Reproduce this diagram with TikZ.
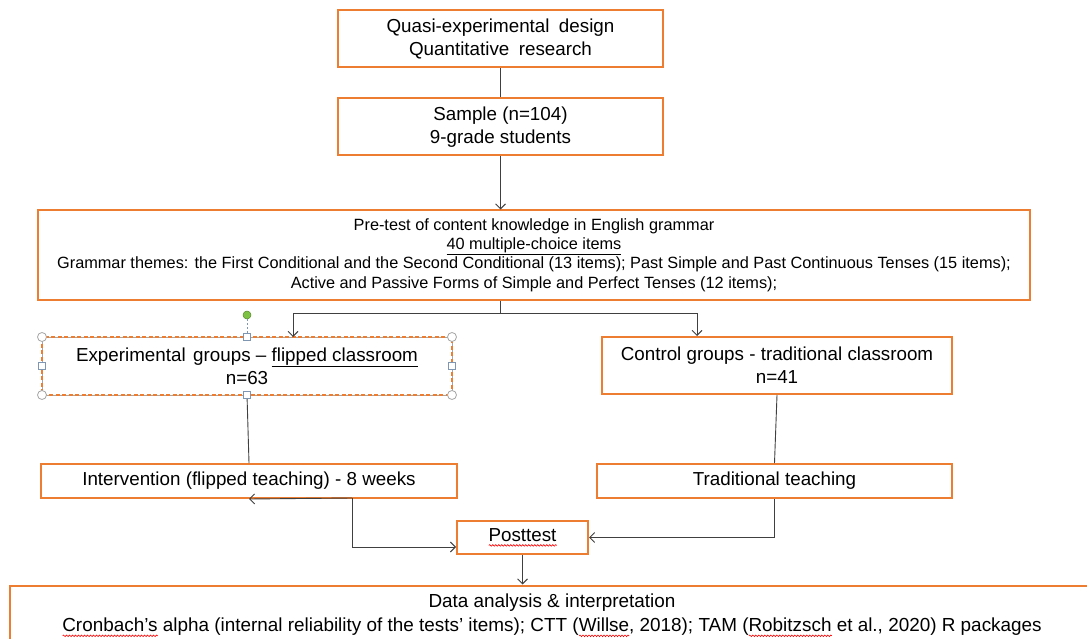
\documentclass[tikz,border=0pt]{standalone}
\usepackage{fontspec}
\setmainfont{Liberation Sans}
\usetikzlibrary{arrows.meta,decorations.pathmorphing}

\definecolor{boxorange}{HTML}{ED7D31}
\definecolor{linegray}{HTML}{404040}
\definecolor{handlegreen}{HTML}{7DC242}
\definecolor{handleblue}{HTML}{7F96B2}

% red wavy underline (spell-check mark)
\newsavebox\wavebox
\newcommand\spellwave[1]{%
  \sbox\wavebox{#1}%
  \leavevmode\rlap{\usebox\wavebox}%
  \rlap{\raisebox{-4pt}{\tikz[x=1pt,y=1pt,baseline=0pt]
    \draw[red, line width=0.6pt, decorate,
          decoration={snake, amplitude=0.8pt, segment length=3pt}]
      (0,0) -- (\the\wd\wavebox,0);}}%
  \hspace{\wd\wavebox}}

\tikzset{
  box/.style={draw=boxorange, line width=2pt, fill=white, inner sep=0pt,
    align=center, font=\fontsize{18.8}{23}\selectfont},
  conn/.style={draw=linegray, line width=0.9pt},
  arr/.style={conn, -{Straight Barb[length=5pt,width=10pt,line width=0.9pt]}},
  handlecirc/.style={circle, draw=gray!70, fill=white, line width=0.8pt,
    minimum size=9pt, inner sep=0pt},
  handlesq/.style={rectangle, draw=handleblue, fill=white, line width=0.8pt,
    minimum size=6.5pt, inner sep=0pt},
}

\begin{document}
\begin{tikzpicture}[x=1pt,y=-1pt]
\useasboundingbox (0,0) rectangle (1087,639);
\fill[white] (0,0) rectangle (1087,639);
\clip (0,0) rectangle (1087,639);

% boxes
\node[box, minimum width=325, minimum height=57] (design) at (500.5,38.5)
  {Quasi-experimental\hspace{0.5em}design\\Quantitative\hspace{0.5em}research};
\node[box, minimum width=325, minimum height=57] (sample) at (500.5,127)
  {Sample (n=104)\\9-grade students};
\node[box, minimum width=992, minimum height=89,
      font=\fontsize{16.3}{19.4}\selectfont] (pretest) at (534,255)
  {Pre-test of content knowledge in English grammar\\
   \underline{40 multiple-choice items}\\
   Grammar themes: the First Conditional and the Second Conditional (13 items); Past Simple and Past Continuous Tenses (15 items);\\
   Active and Passive Forms of Simple and Perfect Tenses (12 items);};
\node[box, draw=none, minimum width=408, minimum height=56] (exp) at (247,366)
  {Experimental\hspace{0.4em}groups -- \underline{flipped classroom}\\n=63};
\node[box, minimum width=350, minimum height=57] (ctrl) at (777,365.5)
  {Control groups - traditional classroom\\n=41};
\node[box, minimum width=416, minimum height=34] (interv) at (249,481)
  {Intervention (flipped teaching) - 8 weeks};
\node[box, minimum width=355, minimum height=34] (trad) at (774.5,481)
  {Traditional teaching};
\node[box, minimum width=131, minimum height=33] (post) at (522.5,537.5)
  {\spellwave{Posttest}};
\node[box, minimum width=1084, minimum height=60,
      font=\fontsize{18.9}{24}\selectfont] (data) at (552,615.5)
  {Data analysis \& interpretation\\
   \spellwave{Cronbach’s} alpha (internal reliability of the tests’ items); CTT (\spellwave{Willse}, 2018); TAM (\spellwave{Robitzsch} et al., 2020) R packages};

% selected outline of the experimental box
\draw[gray!70, line width=1pt] (exp.north west) rectangle (exp.south east);
\draw[boxorange, line width=1.6pt, dash pattern=on 4pt off 2.5pt]
  (exp.north west) rectangle (exp.south east);

% connectors
\coordinate (split) at (500.5,313);
\coordinate (bl) at (293,313);
\coordinate (br) at (697,313);
\coordinate (elbow) at (352,498);

\draw[conn] (design.south) -- (sample.north);
\draw[arr] (sample.south) -- (sample.south |- pretest.north);
\draw[conn] (sample.south |- pretest.south) -- (split);
\draw[arr] (split) -| (bl |- exp.north);
\draw[arr] (split) -| (br |- ctrl.north);
\draw[conn] (exp.south) -- (interv.north);
\draw[conn] (ctrl.south) -- (trad.north);
\draw[arr] (elbow) -- (interv.south);
\draw[arr] (elbow) |- ([yshift=-9.5pt]post.west);
\draw[arr] (trad.south) |- (post.east);
\draw[arr] (post.south) -- (post.south |- data.north);

% selection handles
\node[circle, fill=handlegreen, draw=handlegreen!70!black, line width=0.5pt,
      minimum size=8pt, inner sep=0pt] (rot) at ([yshift=22pt]exp.north) {};
\draw[handleblue, line width=0.8pt, dash pattern=on 2pt off 2pt] (rot) -- (exp.north);
\node[handlecirc] (hnw) at (exp.north west) {};
\node[handlecirc] (hne) at (exp.north east) {};
\node[handlecirc] (hsw) at (exp.south west) {};
\node[handlecirc] (hse) at (exp.south east) {};
\node[handlesq] (hn) at (exp.north) {};
\node[handlesq] (hs) at (exp.south) {};
\node[handlesq] (hw) at (exp.west) {};
\node[handlesq] (he) at (exp.east) {};
\end{tikzpicture}
\end{document}
